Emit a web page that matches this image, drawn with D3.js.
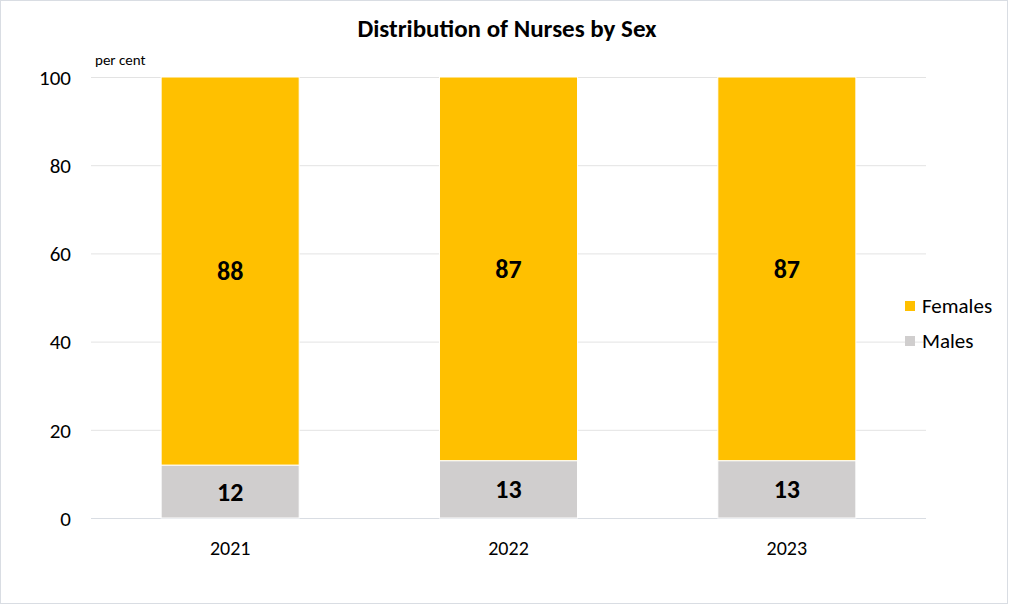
<!DOCTYPE html>
<html><head><meta charset="utf-8">
<script src="https://cdn.jsdelivr.net/npm/d3@7"></script>
<style>body{margin:0;background:#fff}svg{display:block}</style>
</head><body>
<svg id="c" width="1009" height="605"></svg>
<script>
const years = ["2021","2022","2023"];
const females = [88,87,87];
const males = [12,13,13];
const yTicks = [0,20,40,60,80,100];
const seriesNames = ["Females","Males"];
const colors = {Females:"#FFC000", Males:"#D0CECE"};

const svg = d3.select("#c");
const font = "Calibri, Carlito, Lato, 'Open Sans', sans-serif";
svg.append("rect").attr("x",0.5).attr("y",0.5).attr("width",1007).attr("height",603)
  .attr("fill","#fff").attr("stroke","#D9DDE3");

const L=91,R=926,T=77,B=518;
const x = d3.scaleBand().domain(years).range([L,R]).paddingInner(0.504).paddingOuter(0.252);
const y = d3.scaleLinear().domain([0,100]).range([B,T]);

svg.append("g").selectAll("line").data(yTicks).join("line")
  .attr("x1",L).attr("x2",R).attr("y1",d=>y(d)+0.5).attr("y2",d=>y(d)+0.5)
  .attr("stroke",d=>d===0?"#D9DDE3":"#E3E3E3").attr("stroke-width",1);

const yAxis = d3.axisLeft(y).tickValues(yTicks).tickSize(0).tickPadding(0);
const ga = svg.append("g").attr("transform",`translate(${71},0)`).call(yAxis);
ga.select(".domain").remove();
ga.selectAll("text").attr("font-family",font).attr("font-size",21).attr("fill","#000").attr("dy","0.35em");

const xAxis = d3.axisBottom(x).tickSize(0).tickPadding(0);
const gx = svg.append("g").attr("transform",`translate(0,${548})`).call(xAxis);
gx.select(".domain").remove();
gx.selectAll("text").attr("font-family",font).attr("font-size",20).attr("fill","#000").attr("dy","0.35em");

const data = years.map((yr,i)=>({year:yr, Males:males[i], Females:females[i]}));
const stack = d3.stack().keys(["Males","Females"])(data);
svg.append("g").selectAll("g").data(stack).join("g").attr("fill",d=>colors[d.key])
  .selectAll("rect").data(d=>d).join("rect")
  .attr("x",d=>x(d.data.year)).attr("width",x.bandwidth())
  .attr("y",d=>y(d[1])).attr("height",d=>y(d[0])-y(d[1]))
  .attr("stroke","#fff").attr("stroke-width",1);

svg.append("g").selectAll("g").data(stack).join("g")
  .selectAll("text").data(d=>d.map(v=>({v, key:d.key}))).join("text")
  .attr("x",d=>x(d.v.data.year)+x.bandwidth()/2)
  .attr("y",d=>y((d.v[0]+d.v[1])/2)).attr("dy","0.35em")
  .attr("text-anchor","middle").attr("font-family",font).attr("font-weight","bold")
  .attr("font-size",26).attr("fill","#000")
  .text(d=>d.v.data[d.key]);

svg.append("text").attr("x",507).attr("y",28).attr("dy","0.35em").attr("text-anchor","middle")
  .attr("font-family",font).attr("font-weight","bold").attr("font-size",25).text("Distribution of Nurses by Sex");
svg.append("text").attr("x",95).attr("y",60).attr("dy","0.35em")
  .attr("font-family",font).attr("font-size",15).text("per cent");

const lg = svg.append("g").selectAll("g").data(seriesNames).join("g")
  .attr("transform",(d,i)=>`translate(905,${306+i*35})`);
lg.append("rect").attr("x",0).attr("y",-5).attr("width",10).attr("height",10).attr("fill",d=>colors[d]);
lg.append("text").attr("x",17).attr("dy","0.35em").attr("font-family",font).attr("font-size",21).text(d=>d);
</script>
</body></html>
